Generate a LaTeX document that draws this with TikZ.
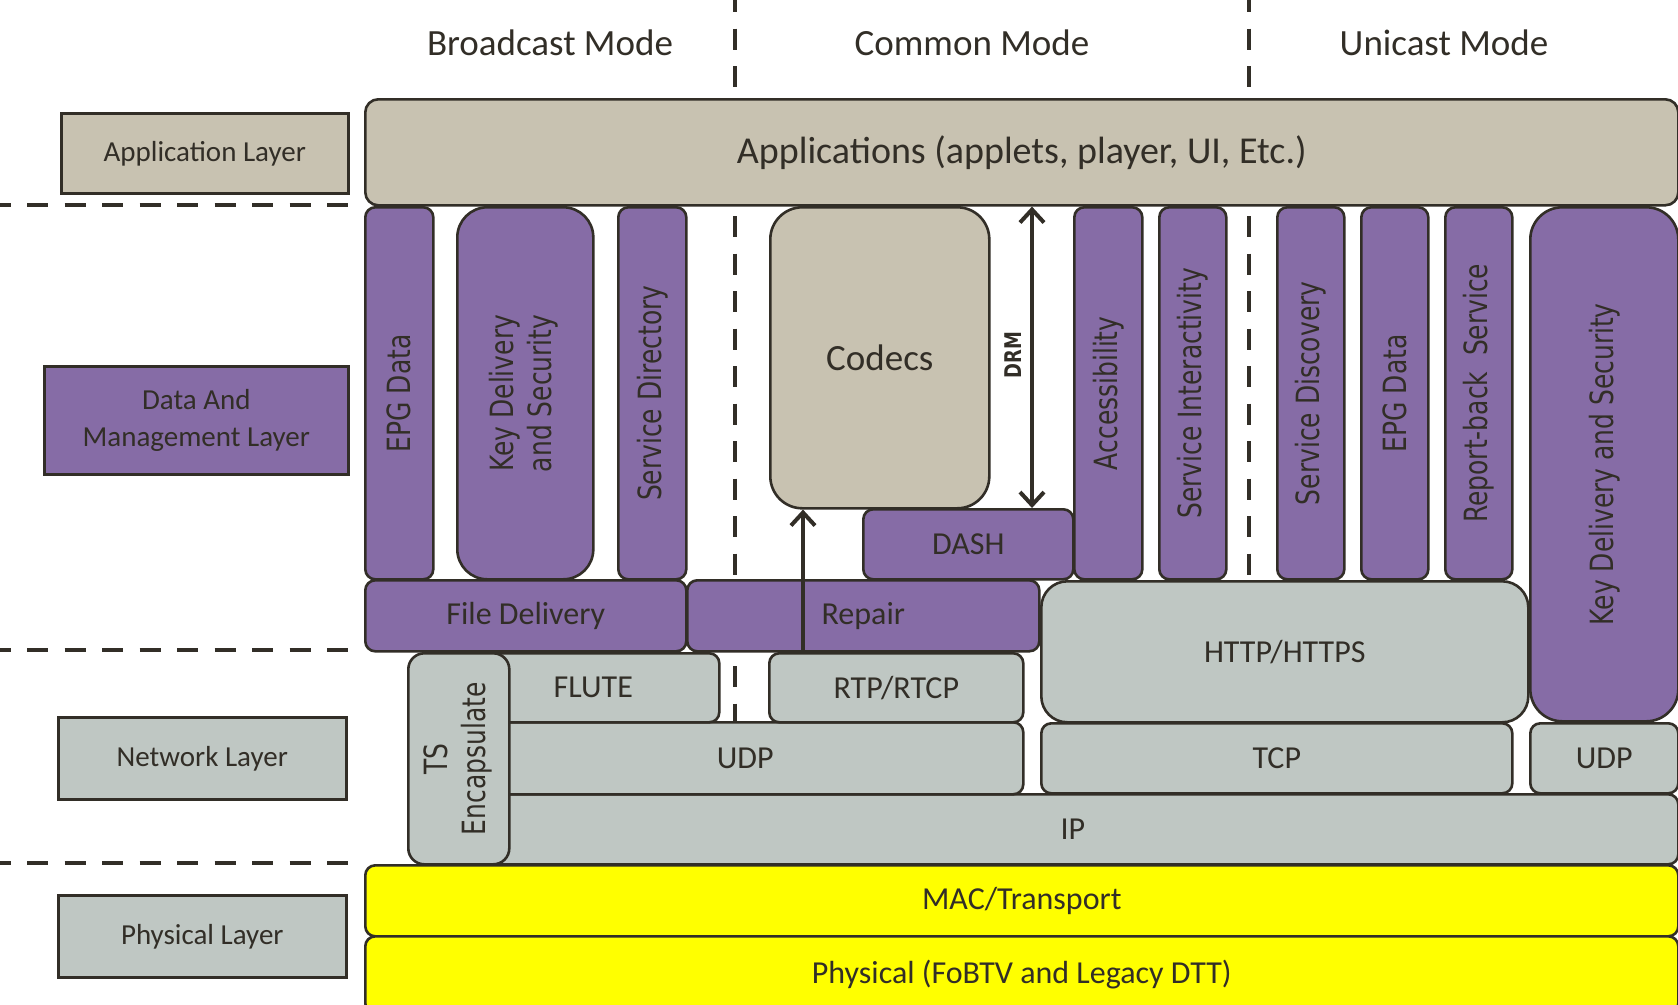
\documentclass[tikz,border=0pt]{standalone}
\usepackage{fontspec}
\setmainfont{Carlito}
\newfontfamily\vfont{DejaVu Sans}
\usepackage{graphicx}
\usetikzlibrary{arrows.meta}
\definecolor{pur}{HTML}{866CA6}
\definecolor{tanc}{HTML}{C8C2B1}
\definecolor{gry}{HTML}{BFC7C3}
\definecolor{ol}{HTML}{322E27}
\definecolor{ylw}{HTML}{FFFF00}
\newcommand\lay[7]{\node[#1, minimum width={(#5-#3)*1pt}, minimum height={(#6-#4)*1pt}, anchor=north west] (#2) at (#3,#4) {#7};}
\newcommand\vt[1]{\rotatebox{90}{\scalebox{0.78}[1]{\vfont\fontsize{32}{38}\selectfont #1}}}
\tikzset{
  blk/.style={draw=ol, line width=2.6pt, rounded corners=10pt, inner sep=0pt, text=ol, font=\fontsize{32}{38}\selectfont},
  lbl/.style={draw=ol, line width=2.6pt, inner sep=0pt, text=ol, font=\fontsize{29}{37}\selectfont, align=center},
  hdr/.style={text=ol, font=\fontsize{37}{44}\selectfont, inner sep=0pt},
  dsh/.style={draw=ol, line width=4pt, dash pattern=on 21pt off 16.5pt},
  arr/.style={draw=ol, line width=4pt},
  vbarb/.tip={Straight Barb[length=13pt,width=24pt]}
}
\begin{document}
\begin{tikzpicture}[x=1pt,y=-1pt]
\useasboundingbox (0,0) rectangle (1678,1004);
\fill[white] (0,0) rectangle (1678,1004);
% dashed separators
\draw[dsh] (-10.5,205) -- (348,205);
\draw[dsh] (-10.5,650) -- (348,650);
\draw[dsh] (-10.5,863) -- (348,863);
\draw[dsh] (735,-9) -- (735,721);
\draw[dsh] (1249,-9) -- (1249,721);
% headings
\node[hdr] (hb) at (550,43) {Broadcast Mode};
\node[hdr] (hc) at (972,43) {Common Mode};
\node[hdr] (hu) at (1444,43) {Unicast Mode};
% layer labels
\lay{lbl, fill=tanc}{lapp}{60}{112}{347}{192}{Application Layer}
\lay{lbl, fill=pur}{ldat}{43}{365}{347}{473}{Data And\\Management Layer}
\lay{lbl, fill=gry}{lnet}{57}{716}{345}{798}{Network Layer}
\lay{lbl, fill=gry}{lphy}{57}{894}{345}{976}{Physical Layer}
% application
\lay{blk, fill=tanc, rounded corners=13pt, font=\fontsize{38}{44}\selectfont}{app}{364}{98}{1677}{204}{Applications (applets, player, UI, Etc.)}
% columns
\lay{blk, fill=pur}{epga}{364}{206}{432}{578}{\vt{EPG Data}}
\lay{blk, fill=pur, rounded corners=30pt}{keya}{456}{206}{592}{578}{\vt{\begin{tabular}{@{}c@{}}Key Delivery\\and Security\end{tabular}}}
\lay{blk, fill=pur}{sdir}{617}{206}{685}{578}{\vt{Service Directory}}
\lay{blk, fill=tanc, rounded corners=32pt, font=\fontsize{37}{44}\selectfont}{codecs}{769}{206}{988}{507}{Codecs}
\lay{blk, fill=pur}{acc}{1073}{206}{1141}{578}{\vt{Accessibility}}
\lay{blk, fill=pur}{sint}{1158}{206}{1225}{578}{\vt{Service Interactivity}}
\lay{blk, fill=pur}{sdis}{1276}{206}{1343}{578}{\vt{Service Discovery}}
\lay{blk, fill=pur}{epgb}{1360}{206}{1427}{578}{\vt{EPG Data}}
\lay{blk, fill=pur}{rep}{1444}{206}{1511}{578}{\vt{Report-back~~Service}}
\lay{blk, fill=pur, rounded corners=32pt}{keyb}{1529}{206}{1677}{720}{\vt{Key Delivery and Security}}
\lay{blk, fill=pur}{dash}{862}{508}{1072}{578}{DASH}
% delivery row
\lay{blk, fill=pur}{file}{364}{579}{685}{650}{File Delivery}
\lay{blk, fill=pur}{repair}{686}{579}{1038}{650}{Repair}
\lay{blk, fill=gry, rounded corners=26pt}{http}{1040}{580}{1527}{721}{HTTP/HTTPS}
% network
\lay{blk, fill=gry}{ip}{466}{793}{1677}{863}{IP}
\lay{blk, fill=gry}{udpa}{466}{721}{1022}{793}{UDP}
\lay{blk, fill=gry}{flute}{466}{652}{718}{721}{FLUTE}
\lay{blk, fill=gry}{rtp}{768}{652}{1022}{721}{RTP/RTCP}
\lay{blk, fill=gry}{tcp}{1040}{722}{1511}{792}{TCP}
\lay{blk, fill=gry}{udpb}{1529}{722}{1677}{792}{UDP}
\lay{blk, fill=gry, rounded corners=16pt}{ts}{407}{652}{508}{863}{\vt{\begin{tabular}{@{}c@{}}TS\\Encapsulate\end{tabular}}}
% physical
\lay{blk, fill=ylw}{mac}{364}{864}{1677}{935}{MAC/Transport}
\lay{blk, fill=ylw}{phy}{364}{935}{1677}{1012}{Physical (FoBTV and Legacy DTT)}
% arrows
\coordinate (a1) at (803,0);
\draw[arr, -{vbarb}] (a1 |- rtp.north) -- (a1 |- codecs.south);
\coordinate (d1) at (1032,0);
\draw[arr, {vbarb}-{vbarb}] (d1 |- app.south) -- (d1 |- dash.north);
\node[text=ol, inner sep=0pt] (drm) at (1013,355) {\rotatebox{90}{\scalebox{0.78}[1]{\vfont\bfseries\fontsize{23}{28}\selectfont DRM}}};
\end{tikzpicture}
\end{document}
